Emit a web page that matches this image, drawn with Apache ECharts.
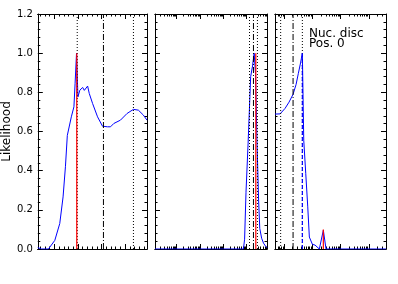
<!DOCTYPE html>
<html><head><meta charset="utf-8">
<script src="https://cdn.jsdelivr.net/npm/echarts@6/dist/echarts.min.js"></script>
<style>html,body{margin:0;padding:0;background:#fff}#c{width:398px;height:284px}</style>
</head><body><div id="c"></div>
<script>
// ---- data ----
const yTickLabels = ['0.0','0.2','0.4','0.6','0.8','1.0','1.2'];
const yAxisTitle = 'Likelihood';
const panelText = 'Nuc. disc\nPos. 0';

// left panel (linear x)
const leftX = [0.3, 0.45, 0.75, 1.02, 1.23, 1.37, 1.47, 1.55, 1.72, 1.83, 1.88, 1.94, 2.00, 2.08, 2.20, 2.27, 2.34, 2.41, 2.48, 2.62, 2.83, 3.04, 3.25, 3.38, 3.52, 3.80, 4.08, 4.35, 4.56, 4.77, 4.925];
const leftY = [0.007, 0.0, 0.0, 0.044, 0.13, 0.266, 0.42, 0.58, 0.675, 0.726, 0.846, 1.0, 0.777, 0.811, 0.825, 0.81, 0.82, 0.832, 0.794, 0.743, 0.675, 0.627, 0.624, 0.624, 0.641, 0.658, 0.692, 0.713, 0.709, 0.684, 0.658];
const leftDotted = [1.97, 4.35];
const leftDashDot = [3.08];
const leftRed = [1.95];
const leftRedTop = [1.0];

// middle panel (x in log10 units)
const midX = [-0.93, 2.86, 2.91, 2.97, 3.06, 3.17, 3.25, 3.32, 3.38, 3.44, 3.51, 3.56, 3.64, 3.72, 3.81, 3.87];
const midY = [0, 0, 0.05, 0.29, 0.54, 0.88, 0.935, 1.0, 0.89, 0.555, 0.25, 0.105, 0.055, 0.03, 0.014, 0.006];
const midDotted = [3.12, 3.46];
const midDashDot = [3.29];
const midRed = [3.39];
const midRedTop = [1.0];

// right panel (x in log10 units)
const rightX = [-0.32, -0.14, 0.035, 0.176, 0.318, 0.424, 0.505, 0.582, 0.646, 0.695, 0.766, 0.837, 0.893, 1.0, 1.094, 1.154, 1.246, 1.387, 1.482, 3.6];
const rightY = [0.689, 0.69, 0.718, 0.75, 0.79, 0.84, 0.897, 0.95, 1.0, 0.556, 0.385, 0.215, 0.061, 0.024, 0.02, 0.024, 0, 0.096, 0, 0];
const rightDotted = [-0.12, 0.646];
const rightDashDot = [0.318];
const rightBlueDashed = [0.646];
const rightBlueDashedTop = [1.0];
const rightRed = [1.387];
const rightRedTop = [0.1];

// ---- build ----
function linTicks(min, max, step) { const a = []; for (let v = Math.ceil(min / step - 1e-9) * step; v <= max + 1e-9; v += step) a.push(+v.toFixed(6)); return a; }
function logMinor(min, max) { const a = []; for (let k = Math.floor(min); k <= Math.ceil(max); k++) for (let m = 2; m <= 9; m++) { const v = k + Math.log10(m); if (v > min && v < max) a.push(v); } return a; }

const leftMajor = [1, 2, 3, 4];
const panels = [
  { left: 36, width: 111, min: 0.3, max: 4.925, major: leftMajor,
    minor: linTicks(0.3, 4.925, 0.2).filter(v => Math.abs(v - Math.round(v)) > 1e-6),
    x: leftX, y: leftY, dotted: leftDotted, dashdot: leftDashDot,
    vert: [{ xs: leftRed, tops: leftRedTop, color: '#ff0000', type: 'solid' }] },
  { left: 155, width: 112, min: -0.93, max: 3.87, major: [0, 1, 2, 3], minor: logMinor(-0.93, 3.87),
    x: midX, y: midY, dotted: midDotted, dashdot: midDashDot,
    vert: [{ xs: midRed, tops: midRedTop, color: '#ff0000', type: 'solid' }] },
  { left: 275, width: 111, min: -0.32, max: 3.6, major: [0, 1, 2, 3], minor: logMinor(-0.32, 3.6),
    x: rightX, y: rightY, dotted: rightDotted, dashdot: rightDashDot,
    vert: [{ xs: rightBlueDashed, tops: rightBlueDashedTop, color: '#0000ff', type: [4, 2] },
           { xs: rightRed, tops: rightRedTop, color: '#ff0000', type: 'solid' }] }
];

const AX = '#000';
const grid = [], xAxis = [], yAxis = [], series = [];
panels.forEach((p, i) => {
  grid.push({ left: p.left, width: p.width, top: 14, height: 235 });
  const mk = (pos, vals, len) => ({
    type: 'value', gridIndex: i, position: pos, min: p.min, max: p.max,
    axisLine: { show: true, onZero: false, lineStyle: { color: AX, width: 1 } },
    axisTick: { show: true, inside: true, length: len, customValues: vals, lineStyle: { color: AX, width: 1 } },
    axisLabel: { show: false }, splitLine: { show: false }
  });
  xAxis.push(mk('bottom', p.major, 5), mk('bottom', p.minor, 2.5), mk('top', p.major, 5), mk('top', p.minor, 2.5));
  const my = (pos, labels) => ({
    type: 'value', gridIndex: i, position: pos, min: 0, max: 1.2, interval: 0.2,
    axisLine: { show: true, onZero: false, lineStyle: { color: AX, width: 1 } },
    axisTick: { show: true, inside: true, length: 5, lineStyle: { color: AX } },
    minorTick: { show: true, splitNumber: 5, length: 2.5, lineStyle: { color: AX } },
    splitLine: { show: false },
    axisLabel: labels ? { show: true, margin: 5, fontFamily: 'DejaVu Sans', fontSize: 10, color: '#000',
      formatter: v => yTickLabels[Math.round(v / 0.2)] } : { show: false },
    name: labels ? yAxisTitle : '', nameLocation: 'middle', nameGap: 23,
    nameTextStyle: { fontFamily: 'DejaVu Sans', fontSize: 12, color: '#000' }
  });
  yAxis.push(my('left', i === 0), my('right', false));
  const xi = i * 4, yi = i * 2;
  const base = { type: 'line', xAxisIndex: xi, yAxisIndex: yi, showSymbol: false, symbol: 'none', silent: true, animation: false };
  series.push(Object.assign({}, base, { name: 'likelihood' + i, data: p.x.map((v, k) => [v, p.y[k]]),
    lineStyle: { color: '#0000ff', width: 1 }, z: 3 }));
  p.dotted.forEach(v => series.push(Object.assign({}, base, { data: [[v, 0], [v, 1.2]], lineStyle: { color: '#000', width: 1, type: [1, 2] }, z: 4 })));
  p.dashdot.forEach(v => series.push(Object.assign({}, base, { data: [[v, 0], [v, 1.2]], lineStyle: { color: '#000', width: 1, type: [6, 2, 1, 2] }, z: 4 })));
  p.vert.forEach(g => g.xs.forEach((v, k) => series.push(Object.assign({}, base, { data: [[v, 0], [v, g.tops[k]]], lineStyle: { color: g.color, width: 1.2, type: g.type }, z: 5 }))));
});

const chart = echarts.init(document.getElementById('c'), null, { renderer: 'canvas' });
chart.setOption({
  animation: false,
  grid, xAxis, yAxis, series,
  graphic: [{ type: 'text', left: 309, top: 28, style: { text: panelText, font: '12px "DejaVu Sans"', fill: '#000', lineHeight: 10 } }]
});
</script></body></html>
